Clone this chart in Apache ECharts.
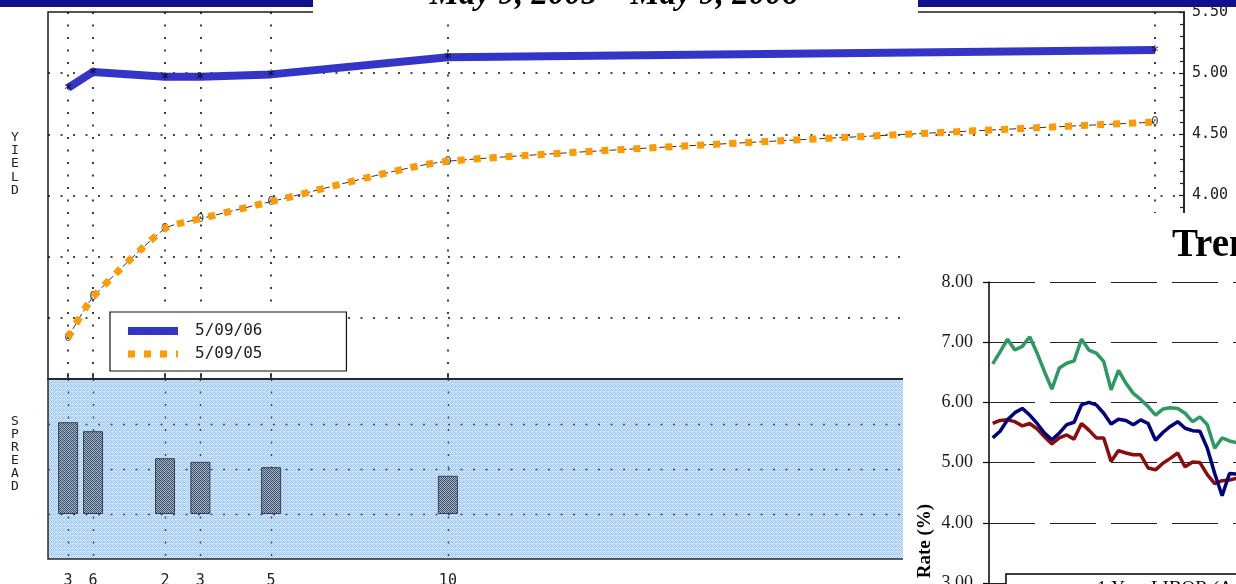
<!DOCTYPE html>
<html>
<head>
<meta charset="utf-8">
<script src="https://cdn.jsdelivr.net/npm/echarts@6/dist/echarts.min.js"></script>
<style>
  html, body { margin: 0; padding: 0; background: #fff; overflow: hidden; }
  #curve { position: absolute; left: 0; top: 0; width: 1236px; height: 584px; }
  #trend { position: absolute; left: 903px; top: 213px; width: 333px; height: 371px; background: #fff; }
</style>
</head>
<body>
<div id="curve"></div>
<div id="trend"></div>
<script>
// ---- Treasury yield curve ----
const titleText = 'May 9, 2005 \u2013 May 9, 2006';
const seriesNames = ['5/09/06', '5/09/05'];
const tenorLabels = ['3', '6', '2', '3', '5', '10', '30'];
const tenorYears = [0.25, 0.5, 2, 3, 5, 10, 30];
const yields06 = [4.88, 5.01, 4.97, 4.97, 4.99, 5.13, 5.19];
const yields05 = [2.84, 3.17, 3.73, 3.81, 3.95, 4.28, 4.60];

// ---- Rate trends panel ----
const trendTitle = 'Trends';
const trendAxisName = 'Rate (%)';
const trendLegendText = '1 Year LIBOR (Avg)';
const trendPeriods = Array.from({ length: 34 }, (_, i) => String(i + 1));
const trendGreen = [6.64, 6.84, 7.05, 6.87, 6.93, 7.09, 6.82, 6.51, 6.22, 6.57, 6.65, 6.69, 7.05, 6.87, 6.82, 6.68, 6.21,
  6.53, 6.32, 6.15, 6.05, 5.93, 5.79, 5.89, 5.91, 5.90, 5.82, 5.68, 5.76, 5.63, 5.24, 5.41, 5.36, 5.33];
const trendNavy = [5.41, 5.52, 5.71, 5.83, 5.90, 5.79, 5.65, 5.49, 5.38, 5.49, 5.63, 5.67, 5.96, 6.00, 5.96, 5.82, 5.64,
  5.72, 5.70, 5.63, 5.71, 5.65, 5.37, 5.50, 5.60, 5.68, 5.57, 5.53, 5.52, 5.24, 4.82, 4.45, 4.82, 4.81];
const trendRed = [5.65, 5.70, 5.71, 5.68, 5.61, 5.65, 5.56, 5.43, 5.31, 5.41, 5.46, 5.39, 5.65, 5.54, 5.41, 5.41, 5.02,
  5.20, 5.16, 5.13, 5.13, 4.91, 4.88, 4.99, 5.07, 5.16, 4.93, 5.01, 5.00, 4.80, 4.65, 4.70, 4.71, 4.74];

// Maturity axis: the short end is stretched, linear in years from 2Y onward
function tenorAxis(t) {
  if (t >= 2) return t;
  if (t >= 0.5) return 2 - (2 - t) * 1.357;
  return 2 - 1.5 * 1.357 - (0.5 - t) * 2.828;
}
const tenorPos = tenorYears.map(tenorAxis);
const tenorLabelAt = v => {
  const i = tenorPos.findIndex(p => Math.abs(p - v) < 1e-6);
  return i < 0 ? '' : tenorLabels[i];
};
const pts06 = tenorPos.map((x, i) => [x, yields06[i]]);
const pts05 = tenorPos.map((x, i) => [x, yields05[i]]);
const spreadPts = tenorPos.map((x, i) => [x, +(yields06[i] - yields05[i]).toFixed(2)]);

// Small stippled tiles for the spread panel and its bars
function tile(rows) {
  const c = document.createElement('canvas');
  c.width = rows[0].length; c.height = rows.length;
  const ctx = c.getContext('2d');
  rows.forEach((row, y) => row.forEach((col, x) => { ctx.fillStyle = col; ctx.fillRect(x, y, 1, 1); }));
  return { image: c, repeat: 'repeat' };
}
const panelFill = tile([
  ['#a9d0f8', '#dbecfd', '#9fc7f3', '#c0ddfa'],
  ['#c5e1fb', '#9cc4f1', '#e8f3fe', '#aacff6'],
  ['#a0c8f3', '#d0e6fc', '#aed3f8', '#96c1ef'],
  ['#e2f0fd', '#a8cdf5', '#bad8f9', '#d4e8fc']
]);
const barFill = tile([
  ['#3c4455', '#a3bdd8', '#505d72', '#8aa3bf'],
  ['#93adc9', '#444d5e', '#b0c8e2', '#3f4859'],
  ['#55627a', '#8ea8c4', '#394152', '#a9c2dc'],
  ['#a6bfd9', '#4a5568', '#97b0cc', '#465165']
]);

const mono = '"DejaVu Sans Mono", monospace';
const dotted = { type: [2, 10.5], color: '#111', width: 1.6 };

const curve = echarts.init(document.getElementById('curve'), null, { renderer: 'canvas' });
curve.setOption({
  animation: false,
  grid: [
    { left: 48, right: 52, top: 12, height: 367, outerBoundsMode: 'none', containLabel: false,
      show: true, borderColor: '#1e1e1e', borderWidth: 1.5, backgroundColor: 'rgba(0,0,0,0)' },
    { left: 48, right: 52, top: 379, height: 180, outerBoundsMode: 'none', containLabel: false,
      show: true, borderColor: '#2a2a2a', borderWidth: 1.5, backgroundColor: panelFill }
  ],
  xAxis: [
    {
      gridIndex: 0, type: 'value', min: -1.31, max: 30.82,
      axisLine: { show: true, onZero: false, lineStyle: { color: '#222', width: 1.5 } },
      axisTick: { show: true, inside: true, length: 6, customValues: tenorPos, lineStyle: { color: '#222', width: 1.5 } },
      axisLabel: { show: false, customValues: tenorPos },
      splitLine: { show: true, lineStyle: dotted }
    },
    {
      gridIndex: 1, type: 'value', min: -1.31, max: 30.82,
      axisLine: { show: false, onZero: false },
      axisTick: { show: false, customValues: tenorPos },
      axisLabel: { show: true, customValues: tenorPos, formatter: tenorLabelAt, margin: 15, fontFamily: mono, fontSize: 15, color: '#222' },
      splitLine: { show: true, lineStyle: { type: [2, 10.5], color: '#3b4a60', width: 1.4 } }
    }
  ],
  yAxis: [
    {
      gridIndex: 0, type: 'value', position: 'right', min: 2.5, max: 5.5, interval: 0.5,
      axisLine: { show: true, onZero: false, lineStyle: { color: '#1e1e1e', width: 1.5 } },
      axisTick: { show: true, inside: true, length: 5, lineStyle: { color: '#1e1e1e', width: 1.2 } },
      minorTick: { show: true, splitNumber: 5, length: 4, lineStyle: { color: '#1e1e1e', width: 1.2 } },
      axisLabel: { formatter: v => v.toFixed(2), margin: 8, fontFamily: mono, fontSize: 15, color: '#222' },
      splitLine: { show: true, showMinLine: false, showMaxLine: false, lineStyle: dotted }
    },
    {
      gridIndex: 1, type: 'value', min: -1, max: 3, interval: 1,
      axisLine: { show: false, onZero: false }, axisTick: { show: false }, axisLabel: { show: false },
      splitLine: { show: true, showMinLine: false, showMaxLine: false, lineStyle: { type: [2, 10.5], color: '#3b4a60', width: 1.4 } }
    }
  ],
  legend: {
    data: [
      { name: seriesNames[0], itemStyle: { opacity: 0 }, lineStyle: { width: 8, color: '#3434c6' } },
      { name: seriesNames[1], itemStyle: { opacity: 0 }, lineStyle: { width: 7, color: '#ff9a00', type: [7, 9] } }
    ],
    orient: 'vertical', left: 110, top: 312, z: 6,
    itemWidth: 50, itemHeight: 10, itemGap: 7, selectedMode: false,
    backgroundColor: '#fff', borderColor: '#111', borderWidth: 1.2, borderRadius: 0,
    padding: [11, 84, 9, 14],
    textStyle: { fontFamily: mono, fontSize: 16, color: '#222', padding: [0, 0, 0, 12] }
  },
  series: [
    {
      name: seriesNames[1] + ' trace', type: 'line', xAxisIndex: 0, yAxisIndex: 0, data: pts05,
      smooth: 0.2, symbol: 'none', silent: true, z: 2,
      lineStyle: { color: '#333', width: 1, type: [7, 3] }
    },
    {
      name: '0', type: 'scatter', xAxisIndex: 0, yAxisIndex: 0, data: pts05, symbolSize: 2, silent: true, z: 2,
      itemStyle: { color: 'rgba(0,0,0,0)' },
      label: { show: true, position: 'inside', formatter: '0', fontFamily: mono, fontSize: 13, color: '#222' }
    },
    {
      name: seriesNames[1], type: 'line', xAxisIndex: 0, yAxisIndex: 0, data: pts05,
      smooth: 0.2, symbol: 'none', z: 3,
      itemStyle: { color: '#ff9a00' },
      lineStyle: { color: '#ff9a00', width: 7, type: [7, 9], cap: 'butt' }
    },
    {
      name: seriesNames[0], type: 'line', xAxisIndex: 0, yAxisIndex: 0, data: pts06,
      symbol: 'none', z: 4,
      itemStyle: { color: '#3434c6' },
      lineStyle: { color: '#3434c6', width: 8, cap: 'butt' }
    },
    {
      name: '*', type: 'scatter', xAxisIndex: 0, yAxisIndex: 0, data: pts06, symbolSize: 2, silent: true, z: 5,
      itemStyle: { color: 'rgba(0,0,0,0)' },
      label: { show: true, position: 'inside', formatter: '*', fontFamily: mono, fontSize: 15, color: '#000', offset: [0, 3] }
    },
    {
      name: 'spread', type: 'bar', xAxisIndex: 1, yAxisIndex: 1, data: spreadPts, barWidth: 20, silent: true,
      itemStyle: { color: barFill, borderColor: '#39414e', borderWidth: 1 }
    }
  ],
  graphic: [
    { type: 'rect', z: 20, shape: { x: 0, y: 0, width: 313, height: 7 }, style: { fill: '#10108c' } },
    { type: 'rect', z: 20, shape: { x: 918, y: 0, width: 318, height: 7 }, style: { fill: '#10108c' } },
    { type: 'rect', z: 20, shape: { x: 313, y: 0, width: 605, height: 22 }, style: { fill: '#fff' } },
    { type: 'text', z: 21, x: 614, y: -5,
      style: { text: titleText, font: 'italic bold 33px "Liberation Serif"', fill: '#000', align: 'center', verticalAlign: 'middle' } },
    { type: 'text', z: 21, x: 15, y: 164,
      style: { text: 'Y\nI\nE\nL\nD', font: '13px ' + mono, lineHeight: 13.4, fill: '#222', align: 'center', verticalAlign: 'middle' } },
    { type: 'text', z: 21, x: 15, y: 454,
      style: { text: 'S\nP\nR\nE\nA\nD', font: '13px ' + mono, lineHeight: 13, fill: '#222', align: 'center', verticalAlign: 'middle' } }
  ]
});

const trend = echarts.init(document.getElementById('trend'), null, { renderer: 'canvas' });
trend.setOption({
  animation: false,
  grid: { left: 86, top: 69, width: 251.6, height: 301, outerBoundsMode: 'none', containLabel: false },
  xAxis: {
    type: 'category', data: trendPeriods, boundaryGap: true,
    axisLine: { show: false }, axisTick: { show: false }, axisLabel: { show: false }, splitLine: { show: false }
  },
  yAxis: {
    type: 'value', min: 3, max: 8, interval: 1,
    axisLine: { show: true, onZero: false, lineStyle: { color: '#000', width: 1.5 } },
    axisTick: { show: true, length: 6, lineStyle: { color: '#000', width: 1.2 } },
    axisLabel: { formatter: v => v.toFixed(2), margin: 16, fontFamily: '"Liberation Serif", serif', fontSize: 18, color: '#1a1a1a' },
    splitLine: { show: true, lineStyle: { type: [46, 15], color: '#222', width: 1.2 } }
  },
  series: [
    { type: 'line', data: trendGreen, symbol: 'none', lineStyle: { color: '#2e9a62', width: 3.5 } },
    { type: 'line', data: trendRed, symbol: 'none', lineStyle: { color: '#8c0b0b', width: 3.5 } },
    { type: 'line', data: trendNavy, symbol: 'none', lineStyle: { color: '#00007f', width: 3.5 } }
  ],
  graphic: [
    { type: 'text', z: 10, x: 269, y: 33,
      style: { text: trendTitle, font: 'bold 39px "Liberation Serif"', fill: '#000', align: 'left', verticalAlign: 'middle' } },
    { type: 'text', z: 10, x: 22, y: 328, rotation: Math.PI / 2,
      style: { text: trendAxisName, font: 'bold 19px "Liberation Serif"', fill: '#000', align: 'center', verticalAlign: 'middle' } },
    { type: 'rect', z: 10, shape: { x: 103, y: 361, width: 240, height: 40 },
      style: { fill: '#fff', stroke: '#000', lineWidth: 1.5 } },
    { type: 'text', z: 11, x: 194, y: 367,
      style: { text: trendLegendText, font: '19px "Liberation Serif"', fill: '#000', align: 'left', verticalAlign: 'top' } }
  ]
});
</script>
</body>
</html>
